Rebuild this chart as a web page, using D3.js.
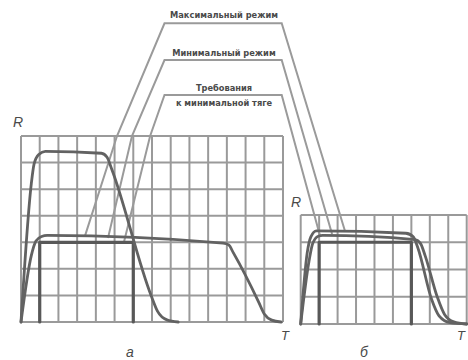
<!DOCTYPE html>
<html><head><meta charset="utf-8">
<script src="https://cdn.jsdelivr.net/npm/d3@7"></script>
<style>body{margin:0;background:#fff}svg{display:block}</style>
</head><body>
<svg id="c" width="468" height="360"></svg>
<script>
// ---- data (grid units: x = time cells, y = thrust cells) ----
const gridA = {cols: 14, rows: 7};
const gridB = {cols: 9, rows: 4};
const maxRegimeA = [[0,0],[0.55,5.2],[0.7,5.95],[0.95,6.3],[1.3,6.42],[4.3,6.35],[4.6,6.2],[4.85,5.75],[6.95,1.0],[7.3,0.4],[7.8,0.08],[8.4,0]];
const minRegimeA = [[0,0],[0.55,2.5],[0.8,3.05],[1.1,3.22],[1.4,3.26],[10.8,2.97],[11.1,2.9],[11.35,2.6],[12.7,0.75],[13.0,0.3],[13.4,0.07],[13.9,0]];
const requirementA = [[1,0],[1,3],[6,3],[6,0]];
const maxRegimeB = [[0,0],[0.35,2.6],[0.55,3.2],[0.85,3.42],[5.7,3.33],[6.1,3.2],[6.35,2.8],[7.1,0.9],[7.5,0.3],[8.1,0.05],[9.0,0]];
const minRegimeB = [[0,0],[0.45,2.3],[0.65,2.95],[0.95,3.22],[1.2,3.25],[6.2,3.1],[6.5,2.95],[6.75,2.5],[7.4,1.0],[7.8,0.35],[8.3,0.08],[9.0,0]];
const requirementB = [[1,0],[1,3],[6,3],[6,0]];
const labels = ["Максимальный режим", "Минимальный режим", "Требования", "к минимальной тяге"];
// leader targets in chart units: [bend on chart a top, end on chart a, end on chart b]
const leaderA = [[[5.13,7],[3.42,3.24]], [[5.93,7],[4.65,3.16]], [[6.9,7],[5.5,3.0]]];
const leaderB = [[2.4,3.41],[1.7,3.3],[1.05,3.23]];
const axisLabels = {y: "R", x: "T", a: "а", b: "б"};

const svg = d3.select("#c");
const xA = d3.scaleLinear().domain([0,gridA.cols]).range([21,283]);
const yA = d3.scaleLinear().domain([0,gridA.rows]).range([322,136]);
const xB = d3.scaleLinear().domain([0,gridB.cols]).range([300.7,466.7]);
const yB = d3.scaleLinear().domain([0,gridB.rows]).range([324,215]);

const gridCol = "#9a9a9a", curveCol = "#626262", rectCol = "#585858", textCol = "#4a4a4a";

function drawGrid(x, y, g) {
  const gg = svg.append("g");
  d3.range(g.cols+1).forEach(i => gg.append("line")
    .attr("x1", x(i)).attr("x2", x(i)).attr("y1", y(0)).attr("y2", y(g.rows))
    .attr("stroke", gridCol).attr("stroke-width", 2));
  d3.range(g.rows+1).forEach(j => gg.append("line")
    .attr("x1", x(0)).attr("x2", x(g.cols)).attr("y1", y(j)).attr("y2", y(j))
    .attr("stroke", gridCol).attr("stroke-width", 2));
}
drawGrid(xA, yA, gridA);
drawGrid(xB, yB, gridB);

// leader lines
const top1 = [23.3, 60, 95];
const cornerL = 164.5, cornerR = 281.7;
top1.forEach((ty, i) => {
  const p = d3.path();
  p.moveTo(xA(leaderA[i][1][0]), yA(leaderA[i][1][1]));
  p.lineTo(xA(leaderA[i][0][0]), yA(leaderA[i][0][1]));
  p.lineTo(cornerL, ty);
  p.lineTo(cornerR, ty);
  p.lineTo(xB(leaderB[i][0]), yB(leaderB[i][1]));
  svg.append("path").attr("d", p.toString()).attr("fill", "none")
    .attr("stroke", gridCol).attr("stroke-width", 2).attr("stroke-linejoin", "miter");
});

function curve(data, x, y, col, w, c) {
  svg.append("path").datum(data)
    .attr("d", d3.line().x(d => x(d[0])).y(d => y(d[1])).curve(c))
    .attr("fill", "none").attr("stroke", col).attr("stroke-width", w)
    .attr("stroke-linejoin", "round").attr("stroke-linecap", "round");
}
curve(requirementA, xA, yA, rectCol, 3.2, d3.curveLinear);
curve(minRegimeA, xA, yA, curveCol, 2.8, d3.curveMonotoneX);
curve(maxRegimeA, xA, yA, curveCol, 2.8, d3.curveMonotoneX);
curve(requirementB, xB, yB, rectCol, 3.2, d3.curveLinear);
curve(minRegimeB, xB, yB, curveCol, 2.8, d3.curveMonotoneX);
curve(maxRegimeB, xB, yB, curveCol, 2.8, d3.curveMonotoneX);

// labels
const lf = "'DejaVu Sans Condensed', 'DejaVu Sans', sans-serif";
const cx = 224;
[[labels[0],18],[labels[1],56],[labels[2],91],[labels[3],106]].forEach(([t,yy]) => {
  svg.append("text").attr("x", cx).attr("y", yy).attr("text-anchor","middle")
    .attr("font-family", lf).attr("font-weight","bold").attr("font-size", 9.2)
    .attr("fill", textCol).text(t);
});

const af = "'Liberation Sans', Arial, sans-serif";
function ital(t, x, y, s) {
  svg.append("text").attr("x", x).attr("y", y).attr("font-family", af)
    .attr("font-style","italic").attr("font-size", s).attr("fill", textCol)
    .attr("text-anchor","middle").text(t);
}
ital(axisLabels.y, 18, 127, 14);
ital(axisLabels.y, 296, 207, 14);
ital(axisLabels.x, 285, 340, 13);
ital(axisLabels.x, 461, 340, 13);
ital(axisLabels.a, 130, 357, 14);
ital(axisLabels.b, 364, 357, 14);
</script>
</body></html>
